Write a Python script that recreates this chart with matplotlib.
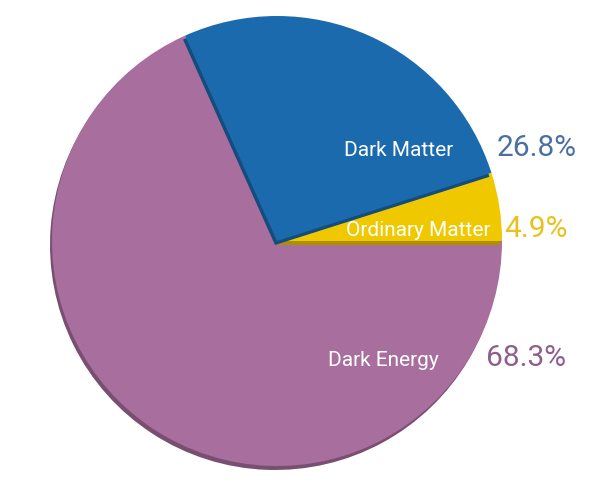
import matplotlib.pyplot as plt
import matplotlib.colors as mcolors

names = ["Ordinary Matter", "Dark Matter", "Dark Energy"]
values = [4.9, 26.8, 68.3]
colors = ["#F0C800", "#1C6AAE", "#A86E9D"]
pct_colors = ["#E8C21A", "#4A6FA5", "#8E5E8C"]

# stacking order of wedges: dark energy at the back, dark matter on top
layer = [1, 2, 0]

cx, cy, r = 277, 259, 225

def darker(c, f=0.72):
    rgb = mcolors.to_rgb(c)
    return tuple(v * f for v in rgb)

fig = plt.figure(figsize=(6, 5), dpi=100)
ax = fig.add_axes([0, 0, 1, 1])

shadow, _ = ax.pie(values, colors=[darker(c) for c in colors], startangle=0,
                   counterclock=True, radius=r, center=(cx - 2, cy - 4),
                   wedgeprops=dict(linewidth=0))
main, _ = ax.pie(values, colors=colors, startangle=0, counterclock=True,
                 radius=r, center=(cx, cy), wedgeprops=dict(linewidth=0))

for i in range(len(values)):
    shadow[i].set_zorder(2 * layer[i] + 1)
    main[i].set_zorder(2 * layer[i] + 2)

ax.set_xlim(0, 600)
ax.set_ylim(0, 500)
ax.set_aspect("equal")
ax.axis("off")

# label placement (name centre, percentage left edge)
name_pos = [(418, 269), (399, 350), (383, 140)]
pct_pos = [(504, 271), (497, 352), (486, 142)]

for i in range(len(values)):
    ax.text(name_pos[i][0], name_pos[i][1], names[i], color="white",
            fontsize=15, family="Roboto", ha="center", va="center",
            zorder=10)
    ax.text(pct_pos[i][0], pct_pos[i][1], "%.1f%%" % values[i],
            color=pct_colors[i], fontsize=21.5, family="Roboto",
            ha="left", va="center", zorder=10)

fig.savefig("out.png", dpi=100)
